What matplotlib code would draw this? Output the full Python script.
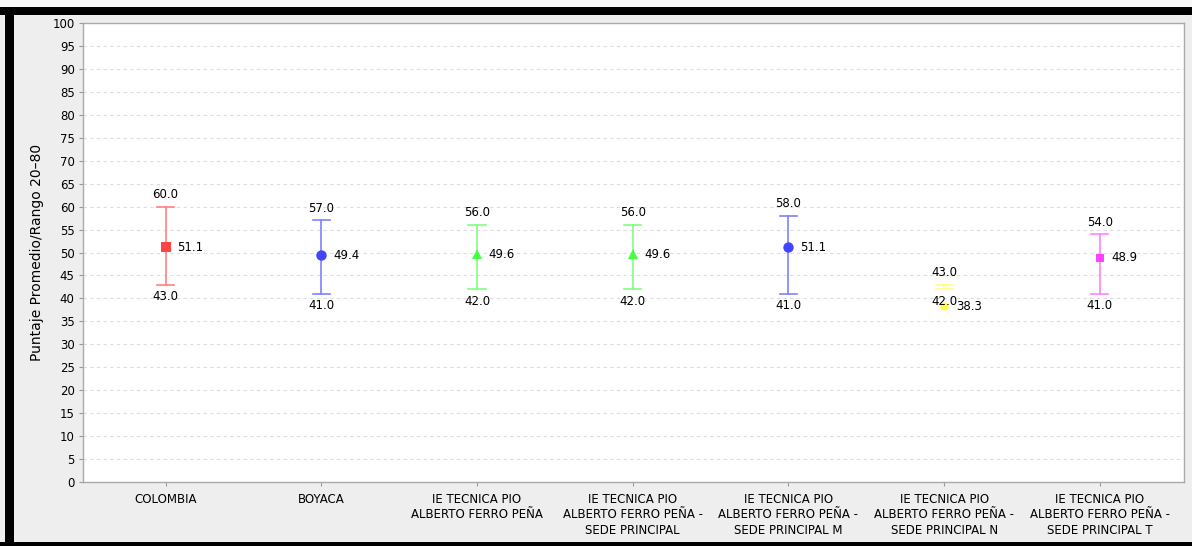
import matplotlib
matplotlib.use("Agg")
import matplotlib.pyplot as plt
from matplotlib.patches import Rectangle

# datos
categorias = [
    "COLOMBIA",
    "BOYACA",
    "IE TECNICA PIO\nALBERTO FERRO PEÑA",
    "IE TECNICA PIO\nALBERTO FERRO PEÑA -\nSEDE PRINCIPAL",
    "IE TECNICA PIO\nALBERTO FERRO PEÑA -\nSEDE PRINCIPAL M",
    "IE TECNICA PIO\nALBERTO FERRO PEÑA -\nSEDE PRINCIPAL N",
    "IE TECNICA PIO\nALBERTO FERRO PEÑA -\nSEDE PRINCIPAL T",
]
promedios = [51.1, 49.4, 49.6, 49.6, 51.1, 38.3, 48.9]
maximos = [60.0, 57.0, 56.0, 56.0, 58.0, 43.0, 54.0]
minimos = [43.0, 41.0, 42.0, 42.0, 41.0, 42.0, 41.0]

colores_linea = ["#FF8080", "#8080FF", "#80FF80", "#80FF80", "#8080FF", "#FFFF80", "#FF80FF"]
colores_marca = ["#FF4444", "#4444FF", "#44FF44", "#44FF44", "#4444FF", "#FFFF44", "#FF44FF"]
marcas = ["s", "o", "^", "^", "o", "o", "s"]
tam_marca = [6.5, 7.5, 7, 7, 7.5, 6, 5.5]

fig = plt.figure(figsize=(11.92, 5.46), dpi=100)
fig.patch.set_facecolor("#EEEEEE")

# marco negro
W, H = 1192, 546
fig.patches.append(Rectangle((0, 1 - 7 / H), 1, 7 / H, transform=fig.transFigure,
                             facecolor="#F8F8F8", edgecolor="none"))
fig.patches.append(Rectangle((0, 1 - 15 / H), 1, 8 / H, transform=fig.transFigure,
                             facecolor="black", edgecolor="none"))
fig.patches.append(Rectangle((5 / W, 0), 9 / W, 1 - 7 / H, transform=fig.transFigure,
                             facecolor="black", edgecolor="none"))
fig.patches.append(Rectangle((0, 0), 1, 4 / H, transform=fig.transFigure,
                             facecolor="black", edgecolor="none"))

ax = fig.add_axes([83 / W, 1 - 482 / H, (1184 - 83) / W, (482 - 23) / H])
ax.set_facecolor("white")

x = list(range(len(categorias)))
for i in x:
    ax.plot([i, i], [minimos[i], maximos[i]], color=colores_linea[i], lw=1.2, zorder=2)
    for v in (minimos[i], maximos[i]):
        ax.plot([i - 0.055, i + 0.055], [v, v], color=colores_linea[i], lw=1.2, zorder=2)
    ax.plot(i, promedios[i], marker=marcas[i], color=colores_marca[i], ms=tam_marca[i],
            markeredgewidth=0, zorder=3)
    ax.text(i, maximos[i] + 1.2, f"{maximos[i]:.1f}", ha="center", va="bottom", fontsize=8.5)
    ax.text(i, minimos[i] - 1.2, f"{minimos[i]:.1f}", ha="center", va="top", fontsize=8.5)
    ax.text(i + 0.075, promedios[i], f"{promedios[i]:.1f}", ha="left", va="center", fontsize=8.5)

ax.set_xlim(-0.53, 6.54)
ax.set_ylim(0, 100)
ax.set_yticks(range(0, 101, 5))
ax.set_xticks(x)
ax.set_xticklabels(categorias, fontsize=8.5, linespacing=1.22)
ax.tick_params(axis="y", labelsize=8.5, length=3, color="#999999", pad=3)
ax.tick_params(axis="x", length=3, color="#999999", pad=5)
ax.yaxis.grid(True, linestyle=(0, (3, 3)), color="#DDDDDD", lw=0.8)
ax.set_axisbelow(True)
for s in ax.spines.values():
    s.set_color("#AAAAAA")
    s.set_linewidth(1.0)
ax.set_ylabel("Puntaje Promedio/Rango 20–80", fontsize=10, labelpad=6)

fig.savefig("out.png", dpi=100, facecolor=fig.get_facecolor())
